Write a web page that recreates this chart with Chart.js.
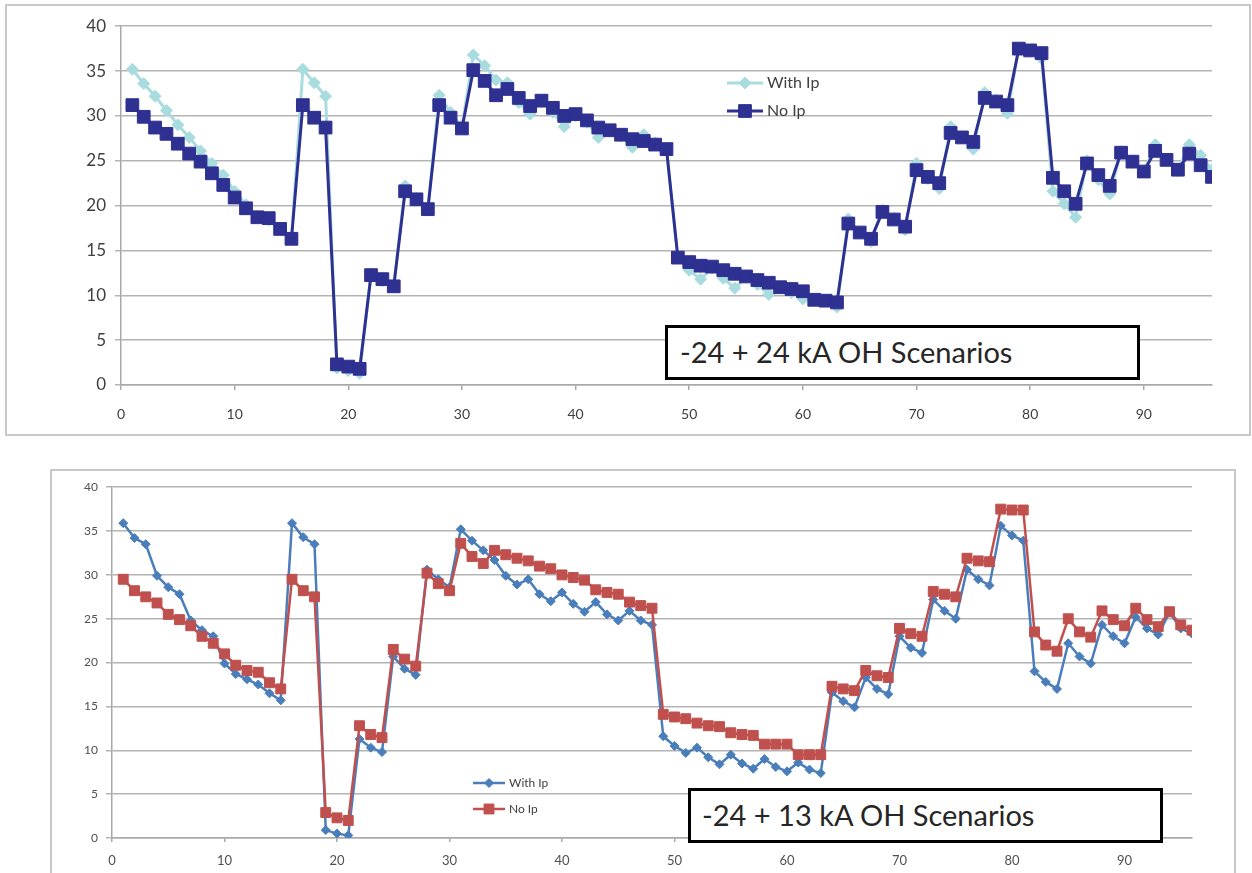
<!DOCTYPE html>
<html>
<head>
<meta charset="utf-8">
<script src="https://cdn.jsdelivr.net/npm/chart.js@4.4.1/dist/chart.umd.min.js"></script>
<style>
  body { margin: 0; background: #fff; width: 1252px; height: 873px; overflow: hidden; position: relative; font-family: Lato, 'Liberation Sans', sans-serif; }
  .panel { position: absolute; border: 2px solid #c8c8c8; box-sizing: border-box; background: #fff; }
  canvas { position: absolute; }
  .note { position: absolute; width: 475px; height: 55px; border: 3px solid #000; box-sizing: border-box; background: #fff;
          font-size: 29px; line-height: 48px; color: #262626; white-space: nowrap; }
</style>
</head>
<body>
<div class="panel" style="left:5px; top:4px; width:1246px; height:432px;"></div>
<div class="panel" style="left:50px; top:469px; width:1186px; height:420px;"></div>
<canvas id="top" width="1241" height="426" style="left:7px; top:7px;"></canvas>
<canvas id="bottom" width="1181" height="401" style="left:52px; top:472px;"></canvas>
<div class="note" style="left:665px; top:325px; padding-left:12px;">-24 + 24 kA OH Scenarios</div>
<div class="note" style="left:688px; top:788px; padding-left:11px;">-24 + 13 kA OH Scenarios</div>
<script>
// scenario number 1..96 on the x axis
const scenario = Array.from({ length: 96 }, (_, i) => i + 1)
const xTicks = [0, 10, 20, 30, 40, 50, 60, 70, 80, 90]
const yTicks = [0, 5, 10, 15, 20, 25, 30, 35, 40]

// -24 + 24 kA
const withIp24 = [
  35.2, 33.6, 32.2, 30.6, 29.0, 27.6, 26.1, 24.7, 23.4, 21.6, 20.1, 18.8, 18.4, 17.3, 16.2, 35.2,
  33.7, 32.2, 1.9, 1.6, 1.3, 12.4, 11.6, 10.9, 22.2, 20.8, 19.6, 32.3, 30.4, 28.8, 36.8, 35.6,
  34.0, 33.7, 31.5, 30.2, 31.6, 30.4, 28.8, 30.0, 29.3, 27.6, 28.3, 27.8, 26.5, 27.9, 27.0, 26.3,
  14.2, 12.8, 11.8, 13.0, 11.9, 10.8, 12.0, 11.2, 10.1, 10.9, 10.3, 9.6, 9.4, 9.4, 8.7, 18.5,
  17.0, 16.0, 19.5, 18.6, 17.3, 24.7, 23.0, 21.9, 28.8, 27.7, 26.3, 32.6, 31.8, 30.3, 37.6, 37.2,
  36.4, 21.6, 20.2, 18.7, 25.0, 22.9, 21.3, 26.0, 24.8, 23.8, 26.8, 25.0, 23.9, 26.8, 25.6, 24.0
]
const noIp24 = [
  31.2, 29.9, 28.7, 28.0, 26.9, 25.8, 24.9, 23.6, 22.3, 20.9, 19.7, 18.7, 18.6, 17.4, 16.3, 31.2,
  29.8, 28.7, 2.3, 2.05, 1.8, 12.25, 11.8, 11.0, 21.6, 20.7, 19.6, 31.2, 29.8, 28.6, 35.1, 33.9,
  32.3, 33.0, 32.0, 31.1, 31.7, 30.9, 30.0, 30.2, 29.5, 28.7, 28.4, 27.9, 27.4, 27.2, 26.8, 26.3,
  14.2, 13.7, 13.3, 13.2, 12.8, 12.4, 12.1, 11.7, 11.4, 10.9, 10.7, 10.45, 9.5, 9.4, 9.2, 18.0,
  17.0, 16.3, 19.3, 18.45, 17.65, 23.95, 23.2, 22.5, 28.1, 27.6, 27.1, 32.0, 31.6, 31.2, 37.5, 37.3,
  37.0, 23.1, 21.6, 20.2, 24.7, 23.4, 22.2, 25.9, 24.9, 23.8, 26.1, 25.1, 24.0, 25.8, 24.5, 23.2
]

// -24 + 13 kA
const withIp13 = [
  35.9, 34.2, 33.5, 29.9, 28.6, 27.8, 24.8, 23.7, 23.0, 19.9, 18.7, 18.1, 17.5, 16.5, 15.7, 35.9,
  34.3, 33.5, 0.9, 0.5, 0.3, 11.3, 10.3, 9.8, 20.7, 19.3, 18.6, 30.6, 29.5, 28.6, 35.2, 33.9,
  32.8, 31.7, 29.9, 28.9, 29.5, 27.8, 27.0, 28.0, 26.7, 25.8, 26.9, 25.5, 24.8, 25.9, 24.8, 24.3,
  11.6, 10.5, 9.7, 10.3, 9.2, 8.4, 9.5, 8.5, 7.9, 9.0, 8.1, 7.6, 8.6, 7.8, 7.4, 16.6,
  15.6, 14.9, 18.3, 17.0, 16.4, 23.0, 21.7, 21.1, 27.2, 25.9, 25.0, 30.6, 29.5, 28.8, 35.6, 34.5,
  33.9, 19.0, 17.8, 17.0, 22.2, 20.7, 19.9, 24.3, 23.0, 22.2, 25.2, 23.9, 23.2, 25.7, 23.9, 23.3
]
const noIp13 = [
  29.5, 28.2, 27.5, 26.8, 25.5, 24.9, 24.2, 23.0, 22.2, 21.0, 19.7, 19.1, 18.9, 17.7, 17.0, 29.5,
  28.2, 27.5, 2.9, 2.3, 2.0, 12.8, 11.8, 11.45, 21.5, 20.4, 19.6, 30.2, 29.0, 28.2, 33.6, 32.1,
  31.3, 32.8, 32.3, 31.9, 31.6, 31.0, 30.7, 30.0, 29.7, 29.4, 28.3, 28.0, 27.8, 26.9, 26.5, 26.2,
  14.1, 13.8, 13.6, 13.1, 12.8, 12.7, 12.0, 11.8, 11.7, 10.7, 10.7, 10.7, 9.5, 9.5, 9.5, 17.3,
  17.0, 16.8, 19.1, 18.5, 18.3, 23.9, 23.3, 23.0, 28.1, 27.8, 27.5, 31.9, 31.6, 31.5, 37.5, 37.4,
  37.4, 23.5, 22.0, 21.3, 25.0, 23.5, 22.9, 25.9, 24.9, 24.2, 26.2, 24.9, 24.1, 25.8, 24.3, 23.7
]

const seriesNames = ['With Ip', 'No Ip']
const fontFamily = "Lato, 'Liberation Sans', sans-serif"

const toPoints = (vals) => vals.map((v, i) => ({ x: scenario[i], y: v }))

// little legend drawn straight on the canvas, Excel style (line + marker + name)
const seriesKey = {
  id: 'seriesKey',
  afterDatasetsDraw(chart, args, opts) {
    const ctx = chart.ctx
    ctx.save()
    ctx.font = opts.size + 'px ' + fontFamily
    ctx.textBaseline = 'middle'
    chart.data.datasets.forEach((ds) => {
      const row = seriesNames.indexOf(ds.label)
      const y = opts.y + row * opts.gap
      ctx.strokeStyle = ds.borderColor
      ctx.lineWidth = ds.borderWidth
      ctx.beginPath()
      ctx.moveTo(opts.x, y)
      ctx.lineTo(opts.x + opts.len, y)
      ctx.stroke()
      ctx.fillStyle = ds.backgroundColor
      ctx.lineWidth = 1
      Chart.helpers.drawPoint(ctx, { pointStyle: ds.pointStyle, radius: ds.pointRadius, borderWidth: 1, rotation: 0 }, opts.x + opts.len / 2, y)
      ctx.fillStyle = opts.color
      ctx.fillText(ds.label, opts.x + opts.len + 4, y)
    })
    ctx.restore()
  }
}

function makeChart(id, sets, cfg) {
  return new Chart(id, {
    type: 'line',
    data: { datasets: sets },
    plugins: [seriesKey],
    options: {
      responsive: false,
      animation: false,
      events: [],
      layout: { padding: cfg.padding },
      plugins: {
        legend: { display: false },
        tooltip: { enabled: false },
        seriesKey: cfg.key
      },
      scales: {
        x: {
          type: 'linear',
          min: 0,
          max: 96,
          afterBuildTicks: (s) => { s.ticks = xTicks.map(v => ({ value: v })) },
          afterFit: (s) => { s.height = cfg.xHeight },
          ticks: { font: { family: fontFamily, size: cfg.xFont }, color: cfg.tickColor, padding: cfg.xPad, maxRotation: 0 },
          grid: { drawOnChartArea: false, drawTicks: true, tickLength: cfg.xTick, color: '#a8a8a8', lineWidth: 1.5 },
          border: { display: true, color: '#a8a8a8', width: 1.5 }
        },
        y: {
          min: 0,
          max: 40,
          afterBuildTicks: (s) => { s.ticks = yTicks.map(v => ({ value: v })) },
          afterFit: (s) => { s.width = cfg.yWidth },
          ticks: { font: { family: fontFamily, size: cfg.yFont }, color: cfg.tickColor, padding: cfg.yPad },
          grid: { color: '#b4b4b4', lineWidth: 1.5, tickLength: 6 },
          border: { display: true, color: '#a8a8a8', width: 1.5 }
        }
      }
    }
  })
}

makeChart('top', [
  {
    label: seriesNames[1], data: toPoints(noIp24), order: 0,
    borderColor: '#2e3192', backgroundColor: '#2e3192', borderWidth: 3,
    pointStyle: 'rect', pointRadius: 9, pointBorderWidth: 1
  },
  {
    label: seriesNames[0], data: toPoints(withIp24), order: 1,
    borderColor: '#a9dcdf', backgroundColor: '#a9dcdf', borderWidth: 3,
    pointStyle: 'rectRot', pointRadius: 6, pointBorderWidth: 1
  }
], {
  padding: { top: 8, right: 36, left: 0, bottom: 0 },
  xHeight: 48, yWidth: 114, xFont: 14, yFont: 17, xPad: 16, yPad: 9, xTick: 5,
  tickColor: '#404040',
  key: { x: 720, y: 76, gap: 28, len: 36, size: 16, color: '#404040' }
})

makeChart('bottom', [
  {
    label: seriesNames[1], data: toPoints(noIp13), order: 0,
    borderColor: '#c0504d', backgroundColor: '#c0504d', borderWidth: 2.5,
    pointStyle: 'rect', pointRadius: 7, pointBorderWidth: 1
  },
  {
    label: seriesNames[0], data: toPoints(withIp13), order: 1,
    borderColor: '#4a7ebb', backgroundColor: '#4a7ebb', borderWidth: 2.5,
    pointStyle: 'rectRot', pointRadius: 4.5, pointBorderWidth: 1
  }
], {
  padding: { top: 7, right: 41, left: 0, bottom: 0 },
  xHeight: 35, yWidth: 60, xFont: 13, yFont: 12, xPad: 11, yPad: 8, xTick: 4,
  tickColor: '#505050',
  key: { x: 421, y: 311, gap: 26, len: 32, size: 12, color: '#404040' }
})
</script>
</body>
</html>
